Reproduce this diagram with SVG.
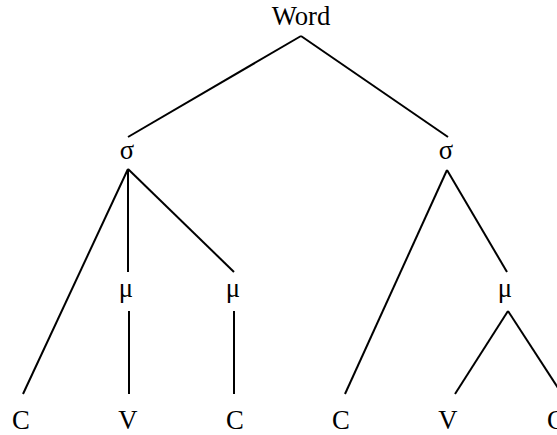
<svg xmlns="http://www.w3.org/2000/svg" width="557" height="435" viewBox="0 0 557 435">
<style>
text{font-family:"Liberation Serif","Times New Roman",serif;font-size:26.7px;fill:#000;text-anchor:middle}
.e line{stroke:#000;stroke-width:2;stroke-linecap:butt}
</style>
<rect width="557" height="435" fill="#fff"/>
<g class="e" id="connectors">
<line x1="301" y1="36" x2="128" y2="137"/>
<line x1="301" y1="36" x2="448" y2="137"/>
<line x1="128" y1="169" x2="23" y2="394"/>
<line x1="128" y1="169" x2="128" y2="272"/>
<line x1="128" y1="169" x2="234" y2="272"/>
<line x1="129" y1="311" x2="129" y2="394"/>
<line x1="234" y1="311" x2="234" y2="394"/>
<line x1="447" y1="170" x2="345" y2="394"/>
<line x1="447" y1="170" x2="507" y2="272"/>
<line x1="508" y1="311" x2="455" y2="394"/>
<line x1="508" y1="311" x2="562" y2="394"/>
</g>
<g id="word"><text x="301" y="25">Word</text></g>
<g id="sigma1"><text x="127" y="159">σ</text></g>
<g id="sigma2"><text x="446" y="159">σ</text></g>
<g id="mu1"><text x="126" y="297">μ</text></g>
<g id="mu2"><text x="233" y="297">μ</text></g>
<g id="mu3"><text x="505" y="297">μ</text></g>
<g id="c1"><text x="21" y="429">C</text></g>
<g id="v1"><text x="128" y="429">V</text></g>
<g id="c2"><text x="235" y="429">C</text></g>
<g id="c3"><text x="341" y="429">C</text></g>
<g id="v2"><text x="448" y="429">V</text></g>
<g id="c4"><text x="556" y="429">C</text></g>
</svg>
